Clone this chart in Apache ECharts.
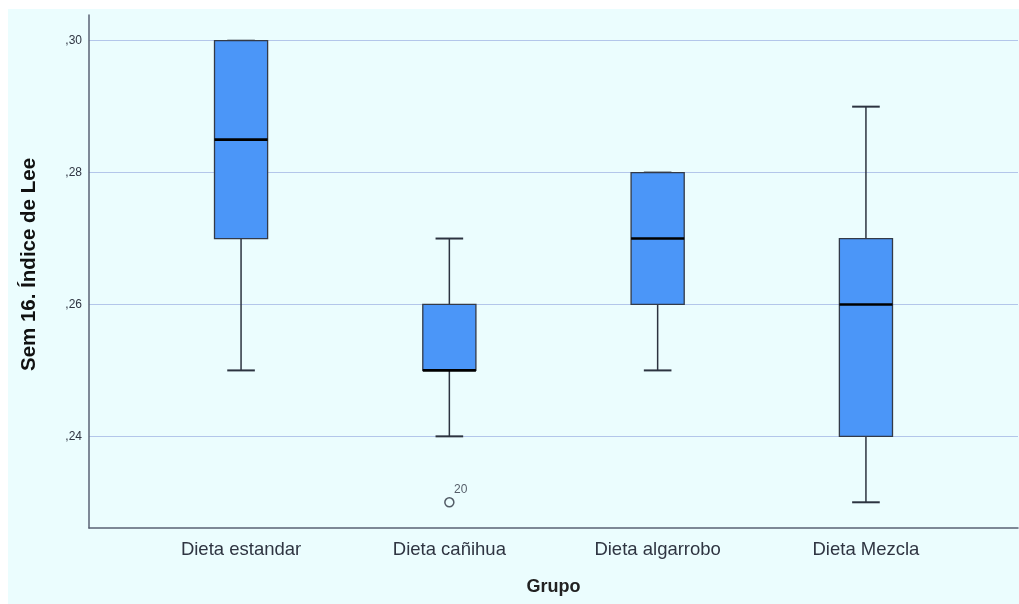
<!DOCTYPE html>
<html>
<head>
<meta charset="utf-8">
<script src="https://cdn.jsdelivr.net/npm/echarts@6/dist/echarts.min.js"></script>
<style>
  html, body { margin: 0; padding: 0; background: #ffffff; }
  #wrap { position: relative; width: 1019px; height: 604px; background: #ffffff; }
  #chart { position: absolute; left: 8px; top: 9px; width: 1011px; height: 595px; }
</style>
</head>
<body>
<div id="wrap"><div id="chart"></div></div>
<script>
// ---- data ----
const categories = ['Dieta estandar', 'Dieta cañihua', 'Dieta algarrobo', 'Dieta Mezcla'];
const mins    = [0.25, 0.24, 0.25, 0.23];
const q1s     = [0.27, 0.25, 0.26, 0.24];
const medians = [0.285, 0.25, 0.27, 0.26];
const q3s     = [0.30, 0.26, 0.28, 0.27];
const maxs    = [0.30, 0.27, 0.28, 0.29];
const outliers = [[2, 0.23, '20']];          // [group position, value, case label]
const yTicks = [0.24, 0.26, 0.28, 0.30];
const yTickLabels = [',24', ',26', ',28', ',30'];
const xPositions = [1, 2, 3, 4];

const boxData = categories.map((c, i) => [xPositions[i], mins[i], q1s[i], medians[i], q3s[i], maxs[i]]);

const FONT = '"Liberation Sans", Arial, sans-serif';
const BOX_W = 0.255;       // in x-axis units
const CAP_RATIO = 0.52;

const chart = echarts.init(document.getElementById('chart'), null, { renderer: 'canvas' });
chart.setOption({
  backgroundColor: '#ebfdfe',
  animation: false,
  grid: { left: 81, right: 1, top: 6, bottom: 76, containLabel: false },
  xAxis: {
    type: 'value',
    min: 0.27, max: 4.73,
    name: 'Grupo',
    nameLocation: 'middle',
    nameGap: 50,
    nameTextStyle: { fontFamily: FONT, fontSize: 18, fontWeight: 'bold', color: '#222' },
    axisLine: { show: true, lineStyle: { color: '#5a6274', width: 1.5 } },
    axisTick: { show: false, customValues: xPositions },
    splitLine: { show: false },
    axisLabel: {
      customValues: xPositions,
      formatter: v => categories[xPositions.indexOf(v)] || '',
      fontFamily: FONT, fontSize: 18.5, color: '#2f3542', margin: 12
    }
  },
  yAxis: {
    type: 'value',
    min: 0.2261, max: 0.3039,
    name: 'Sem 16. Índice de Lee',
    nameLocation: 'middle',
    nameGap: 49,
    nameTextStyle: { fontFamily: FONT, fontSize: 20.5, fontWeight: 'bold', color: '#111', padding: [0, 0, 0, 14] },
    axisLine: { show: true, lineStyle: { color: '#5a6274', width: 1.5 } },
    axisTick: { show: false, customValues: yTicks },
    splitLine: { show: true, lineStyle: { color: '#b3c6ea', width: 1.2 } },
    axisLabel: {
      customValues: yTicks,
      formatter: v => yTickLabels[yTicks.findIndex(t => Math.abs(t - v) < 1e-9)] || '',
      fontFamily: FONT, fontSize: 12, color: '#2f3542', margin: 7
    }
  },
  series: [
    {
      type: 'custom',
      data: boxData,
      encode: { x: 0, y: [1, 2, 3, 4, 5] },
      renderItem: function (params, api) {
        const x = api.value(0);
        const c = k => api.coord([x, api.value(k)]);
        const pMin = c(1), pQ1 = c(2), pMed = c(3), pQ3 = c(4), pMax = c(5);
        const half = api.size([BOX_W, 0])[0] / 2;
        const cap = half * CAP_RATIO;
        const cx = pMed[0];
        const lineStyle = { stroke: '#2c3340', lineWidth: 1.5 };
        return {
          type: 'group',
          children: [
            { type: 'line', shape: { x1: cx, y1: pQ1[1], x2: cx, y2: pMin[1] }, style: lineStyle },
            { type: 'line', shape: { x1: cx, y1: pQ3[1], x2: cx, y2: pMax[1] }, style: lineStyle },
            { type: 'line', shape: { x1: cx - cap, y1: pMin[1], x2: cx + cap, y2: pMin[1] }, style: { stroke: '#2c3340', lineWidth: 2 } },
            { type: 'line', shape: { x1: cx - cap, y1: pMax[1], x2: cx + cap, y2: pMax[1] }, style: { stroke: '#2c3340', lineWidth: 2 } },
            { type: 'rect', shape: { x: cx - half, y: pQ3[1], width: half * 2, height: pQ1[1] - pQ3[1] },
              style: { fill: '#4b96f8', stroke: '#333a48', lineWidth: 1.3 } },
            { type: 'line', shape: { x1: cx - half, y1: pMed[1], x2: cx + half, y2: pMed[1] }, style: { stroke: '#000', lineWidth: 2.6 } }
          ]
        };
      },
      z: 3
    },
    {
      type: 'scatter',
      data: outliers.map(o => [o[0], o[1], o[2]]),
      symbol: 'circle',
      symbolSize: 9,
      itemStyle: { color: 'rgba(0,0,0,0)', borderColor: '#2c3340', borderWidth: 1.5 },
      label: {
        show: true,
        formatter: p => p.value[2],
        position: [10, -13],
        align: 'left', verticalAlign: 'top',
        fontFamily: FONT, fontSize: 12, color: '#2f3542'
      },
      z: 4
    }
  ]
});
</script>
</body>
</html>
